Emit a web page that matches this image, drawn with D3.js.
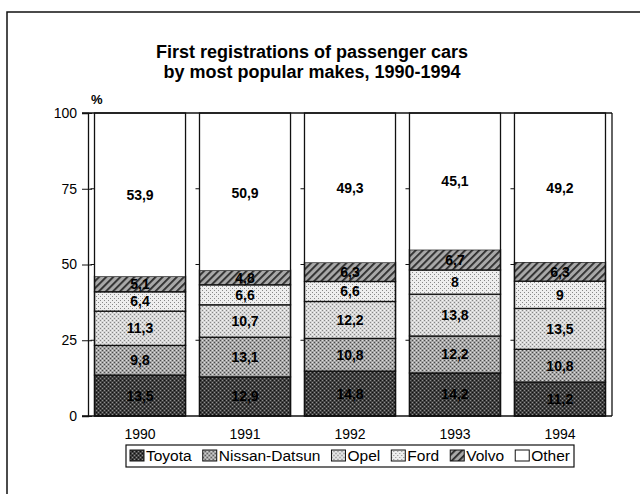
<!DOCTYPE html>
<html>
<head>
<meta charset="utf-8">
<script src="https://cdn.jsdelivr.net/npm/d3@7"></script>
<style>
  body { margin: 0; background: #fff; }
  svg { display: block; font-family: "Liberation Sans", Arial, Helvetica, sans-serif; }
</style>
</head>
<body>
<div id="app"></div>
<script>
var years = ["1990", "1991", "1992", "1993", "1994"];
var makes = ["Toyota", "Nissan-Datsun", "Opel", "Ford", "Volvo", "Other"];
var toyota = [13.5, 12.9, 14.8, 14.2, 11.2];
var nissan = [9.8, 13.1, 10.8, 12.2, 10.8];
var opel = [11.3, 10.7, 12.2, 13.8, 13.5];
var ford = [6.4, 6.6, 6.6, 8, 9];
var volvo = [5.1, 4.8, 6.3, 6.7, 6.3];
var other = [53.9, 50.9, 49.3, 45.1, 49.2];
var yTicks = [0, 25, 50, 75, 100];

var W = 640, H = 494;
var plotL = 88, plotR = 612, plotT = 113, plotB = 416;

var svg = d3.select("#app").append("svg")
    .attr("width", W)
    .attr("height", H);

// PATTERNS
var defs = svg.append("defs");
function stipple(id, base, dark, light) {
    var p = defs.append("pattern")
        .attr("id", id)
        .attr("width", 4).attr("height", 4)
        .attr("patternUnits", "userSpaceOnUse");
    p.append("rect").attr("width", 4).attr("height", 4).style("fill", base);
    p.append("rect").attr("x", 0).attr("y", 0).attr("width", 1).attr("height", 1).style("fill", dark);
    p.append("rect").attr("x", 2).attr("y", 2).attr("width", 1).attr("height", 1).style("fill", dark);
    if (light) {
        p.append("rect").attr("x", 2).attr("y", 0).attr("width", 1).attr("height", 1).style("fill", light);
        p.append("rect").attr("x", 0).attr("y", 2).attr("width", 1).attr("height", 1).style("fill", light);
    }
}
stipple("p0", "#404040", "#111", "#8c8c8c");
stipple("p1", "#a4a4a4", "#4a4a4a", "#dddddd");
stipple("p2", "#d6d6d6", "#858585", "#f4f4f4");
stipple("p3", "#eeeeee", "#888", null);
var hatch = defs.append("pattern")
    .attr("id", "p4")
    .attr("width", 5).attr("height", 5)
    .attr("patternUnits", "userSpaceOnUse")
    .attr("patternTransform", "rotate(45)");
hatch.append("rect").attr("width", 5).attr("height", 5).style("fill", "#a8a8a8");
hatch.append("rect").attr("width", 1.8).attr("height", 5).style("fill", "#2a2a2a");
var fills = ["url(#p0)", "url(#p1)", "url(#p2)", "url(#p3)", "url(#p4)", "#fff"];

// OUTER FRAME
svg.append("rect")
    .attr("x", 7).attr("y", 12)
    .attr("width", 700).attr("height", 600)
    .style("fill", "none")
    .style("stroke", "#111")
    .style("stroke-width", 1.5);

// TITLE
svg.append("text")
    .attr("x", 312).attr("y", 58)
    .attr("text-anchor", "middle")
    .style("font-size", "18px").style("font-weight", "bold")
    .text("First registrations of passenger cars");
svg.append("text")
    .attr("x", 312).attr("y", 78)
    .attr("text-anchor", "middle")
    .style("font-size", "18px").style("font-weight", "bold")
    .text("by most popular makes, 1990-1994");

// SCALES
var x = d3.scaleBand()
    .domain(years)
    .range([plotL, plotR])
    .paddingInner(0.133)
    .paddingOuter(0.062);
var y = d3.scaleLinear()
    .domain([0, 100])
    .range([plotB, plotT]);

var rows = years.map(function (yr, i) {
    return { year: yr, Toyota: toyota[i], "Nissan-Datsun": nissan[i], Opel: opel[i],
             Ford: ford[i], Volvo: volvo[i], Other: other[i] };
});
var series = d3.stack().keys(makes)(rows);

// BARS
var layer = svg.selectAll(".layer")
    .data(series)
    .enter()
    .append("g")
    .attr("class", "layer")
    .style("fill", function (s, i) { return fills[i]; });

layer.selectAll("rect")
    .data(function (s) { return s; })
    .enter()
    .append("rect")
    .attr("x", function (d) { return x(d.data.year); })
    .attr("y", function (d) { return y(d[1]); })
    .attr("width", x.bandwidth())
    .attr("height", function (d) { return y(d[0]) - y(d[1]); })
    .style("stroke", function () {
        return d3.select(this.parentNode).datum().key === "Other" ? "none" : "#111";
    })
    .style("stroke-width", 1.3);

// bar outlines
svg.selectAll(".outline")
    .data(years)
    .enter()
    .append("rect")
    .attr("class", "outline")
    .attr("x", function (d) { return x(d); })
    .attr("y", y(100))
    .attr("width", x.bandwidth())
    .attr("height", y(0) - y(100))
    .style("fill", "none")
    .style("stroke", "#111")
    .style("stroke-width", 1.3);

// small ticks left of each bar
years.forEach(function (yr) {
    svg.selectAll(null)
        .data(yTicks.slice(1, 4))
        .enter()
        .append("line")
        .attr("x1", x(yr) - 4).attr("x2", x(yr))
        .attr("y1", function (d) { return y(d); })
        .attr("y2", function (d) { return y(d); })
        .style("stroke", "#111").style("stroke-width", 1);
});

// PLOT FRAME
svg.append("line").attr("x1", plotL - 6).attr("x2", plotR).attr("y1", y(0)).attr("y2", y(0))
    .style("stroke", "#111").style("stroke-width", 1.5);
svg.append("line").attr("x1", plotL - 6).attr("x2", plotR).attr("y1", y(100)).attr("y2", y(100))
    .style("stroke", "#111").style("stroke-width", 1.5);
svg.append("line").attr("x1", plotR).attr("x2", plotR).attr("y1", y(100)).attr("y2", y(0))
    .style("stroke", "#111").style("stroke-width", 1.3);

// Y AXIS
var yAxis = svg.append("g")
    .attr("transform", "translate(" + plotL + ",0)")
    .call(d3.axisLeft(y).tickValues(yTicks).tickSize(6).tickPadding(6));
yAxis.select(".domain").style("stroke", "#111").style("stroke-width", 1.3);
yAxis.selectAll(".tick line").attr("x1", 4).style("stroke", "#111");
yAxis.selectAll(".tick text")
    .style("font-size", "14px")
    .style("font-family", "Liberation Sans, Arial, sans-serif")
    .attr("x", -11)
    .style("fill", "#000");
svg.append("text")
    .attr("x", plotL + 3).attr("y", 104)
    .style("font-size", "13px").style("font-weight", "bold")
    .text("%");

// X LABELS
svg.selectAll(".xlab")
    .data(years)
    .enter()
    .append("text")
    .attr("class", "xlab")
    .attr("x", function (d) { return x(d) + x.bandwidth() / 2; })
    .attr("y", 439)
    .attr("text-anchor", "middle")
    .style("font-size", "14px")
    .text(function (d) { return d; });

// VALUE LABELS
layer.selectAll(".val")
    .data(function (s) { return s; })
    .enter()
    .append("text")
    .attr("class", "val")
    .attr("x", function (d) { return x(d.data.year) + x.bandwidth() / 2; })
    .attr("y", function (d) { return (y(d[0]) + y(d[1])) / 2 + 5; })
    .attr("text-anchor", "middle")
    .style("fill", "#000")
    .style("font-size", "14px")
    .style("font-weight", "bold")
    .text(function (d) { return String(+(d[1] - d[0]).toFixed(1)).replace(".", ","); });

// LEGEND
var legend = svg.append("g");
var items = [];
var textW = 0;
makes.forEach(function (m, i) {
    var g = legend.append("g");
    g.append("rect")
        .attr("x", 0).attr("y", -11)
        .attr("width", 14).attr("height", 11)
        .style("fill", fills[i])
        .style("stroke", "#111").style("stroke-width", 1);
    var t = g.append("text")
        .attr("x", 16).attr("y", 0)
        .style("font-size", "15.5px")
        .text(m);
    var w = t.node().getComputedTextLength();
    textW += 16 + w;
    items.push({ g: g, w: 16 + w });
});
var legTarget = 440;
var gap = (legTarget - textW) / (makes.length - 1);
var lx = 0;
items.forEach(function (it) {
    it.g.attr("transform", "translate(" + lx + ",0)");
    lx += it.w + gap;
});
var legX = 130;
legend.attr("transform", "translate(" + legX + ",461)");
svg.append("rect")
    .attr("x", legX - 4).attr("y", 445)
    .attr("width", legTarget + 8).attr("height", 22)
    .style("fill", "none")
    .style("stroke", "#111").style("stroke-width", 1.2);
</script>
</body>
</html>
